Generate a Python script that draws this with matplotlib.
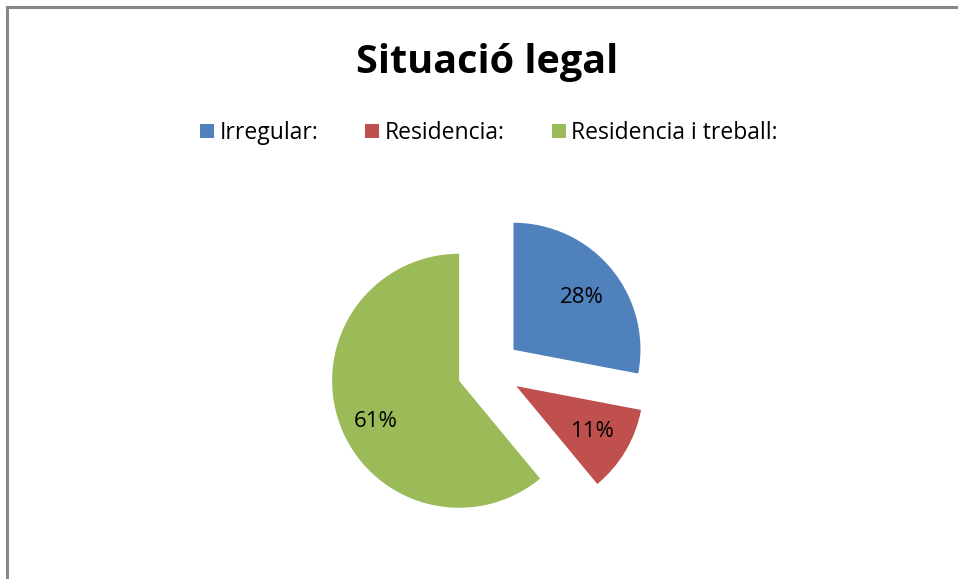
import matplotlib.pyplot as plt
from matplotlib.patches import Patch
from matplotlib.lines import Line2D

labels = ["Irregular:", "Residencia:", "Residencia i treball:"]
values = [28, 11, 61]
colors = ["#4f81bd", "#c0504d", "#9bbb59"]

plt.rcParams['font.family'] = ['Open Sans', 'DejaVu Sans']

fig = plt.figure(figsize=(9.58, 5.79), dpi=100)
fig.patch.set_facecolor("white")

# pie centre ~ (489, 370) px, radius ~127 px
ax = fig.add_axes([0, 0, 1, 1])
wedges, texts, autotexts = ax.pie(
    values, colors=colors, startangle=90, counterclock=False,
    explode=[0.25, 0.25, 0.25], radius=1.0,
    autopct=lambda p: f"{p:.0f}%", pctdistance=0.7,
    textprops={'fontsize': 16, 'color': 'black'},
    wedgeprops={'linewidth': 0})
# map data coords so that radius 1 = 127 px
W, H = 958, 579
cx, cy, r = 489, 579 - 370, 127
ax.set_xlim(-cx / r, (W - cx) / r)
ax.set_ylim(-cy / r, (H - cy) / r)
ax.axis('off')

# small nudges of the percentage labels (pixels, downward)
for t, dy in zip(autotexts, [4, 0, 11]):
    x, y = t.get_position()
    t.set_position((x, y - dy / r))

fig.text(0.508, 1 - 62 / H, "Situació legal", ha='center', va='center',
         fontsize=28.5, fontweight='bold')

handles = [Patch(facecolor=c, edgecolor='none') for c in colors]
fig.legend(handles, labels, loc='center', bbox_to_anchor=(489 / W, 1 - 133 / H),
           ncol=3, frameon=False, fontsize=16.5, handlelength=0.6, handleheight=0.6,
           handletextpad=0.25, columnspacing=2.05)

# grey frame lines (top and left only are visible)
fig.add_artist(Line2D([7 / W, 1], [1 - 7 / H, 1 - 7 / H], color='#888888', lw=2.2,
                      transform=fig.transFigure))
fig.add_artist(Line2D([7 / W, 7 / W], [0, 1 - 7 / H], color='#888888', lw=2.2,
                      transform=fig.transFigure))

fig.savefig("out.png", dpi=100)
